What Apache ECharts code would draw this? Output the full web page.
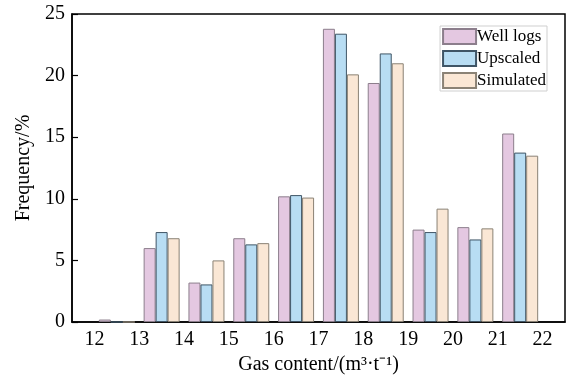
<!DOCTYPE html>
<html><head><meta charset="utf-8">
<script src="https://cdn.jsdelivr.net/npm/echarts@6/dist/echarts.min.js"></script>
<style>html,body{margin:0;padding:0;background:#fff}#c{width:567px;height:378px}</style>
</head><body><div id="c"></div>
<script>
const tickLabels = ['12','13','14','15','16','17','18','19','20','21','22'];
const binCenters = [12.5,13.5,14.5,15.5,16.5,17.5,18.5,19.5,20.5,21.5];
const wellLogs  = [0.2, 6.0, 3.2, 6.8, 10.2, 23.8, 19.4, 7.5, 7.7, 15.3];
const upscaled  = [0,   7.3, 3.05, 6.3, 10.3, 23.4, 21.8, 7.3, 6.7, 13.75];
const simulated = [0,   6.8, 5.0, 6.4, 10.1, 20.1, 21.0, 9.2, 7.6, 13.5];
const seriesNames = ['Well logs','Upscaled','Simulated'];

const font = 'Liberation Serif';
const pair = arr => binCenters.map((x,i)=>[x,arr[i]]);
const styles = [
  {color:'#E4C8E1', borderColor:'#8c7e8c'},
  {color:'#B8DDF3', borderColor:'#3f5566'},
  {color:'#FAE7D5', borderColor:'#8a8275'}
];
const chart = echarts.init(document.getElementById('c'));
chart.setOption({
  animation:false,
  grid:{left:72,right:2,top:14,bottom:56,show:true,borderColor:'#000',borderWidth:1.5,
        containLabel:false, outerBoundsMode:'none'},
  legend:{
    right:20, top:26, orient:'vertical', itemWidth:33, itemHeight:15, itemGap:5, icon:'rect',
    padding:[2,1,2,2], borderColor:'#cfcfcf', borderWidth:1,
    textStyle:{fontFamily:font, fontSize:17, color:'#000', padding:[0,0,0,-4]},
    data:seriesNames
  },
  xAxis:[{
    type:'category', data:tickLabels, boundaryGap:true,
    axisLine:{lineStyle:{color:'#000',width:1.5}},
    axisTick:{alignWithLabel:true, inside:true, length:6, lineStyle:{color:'#000',width:1.2}},
    axisLabel:{fontFamily:font, fontSize:20, color:'#000', margin:8},
    name:'Gas content/(m³·t⁻¹)', nameLocation:'middle', nameGap:27,
    nameTextStyle:{fontFamily:font, fontSize:20, color:'#000'}
  },{
    type:'value', min:11.5, max:22.5, show:false
  }],
  yAxis:{
    type:'value', min:0, max:25, interval:5,
    axisLine:{show:true,lineStyle:{color:'#000',width:1.5}},
    axisTick:{show:true, inside:true, length:6, lineStyle:{color:'#000',width:1.2}},
    splitLine:{show:false},
    axisLabel:{fontFamily:font, fontSize:20, color:'#000', margin:7},
    name:'Frequency/%', nameLocation:'middle', nameGap:33,
    nameTextStyle:{fontFamily:font, fontSize:20, color:'#000'}
  },
  series:[wellLogs,upscaled,simulated].map((arr,i)=>({
    name:seriesNames[i], type:'bar', xAxisIndex:1, data:pair(arr),
    barWidth:12, barGap:'0%',
    itemStyle:{color:styles[i].color, borderColor:styles[i].borderColor, borderWidth:1}
  }))
});
</script></body></html>
